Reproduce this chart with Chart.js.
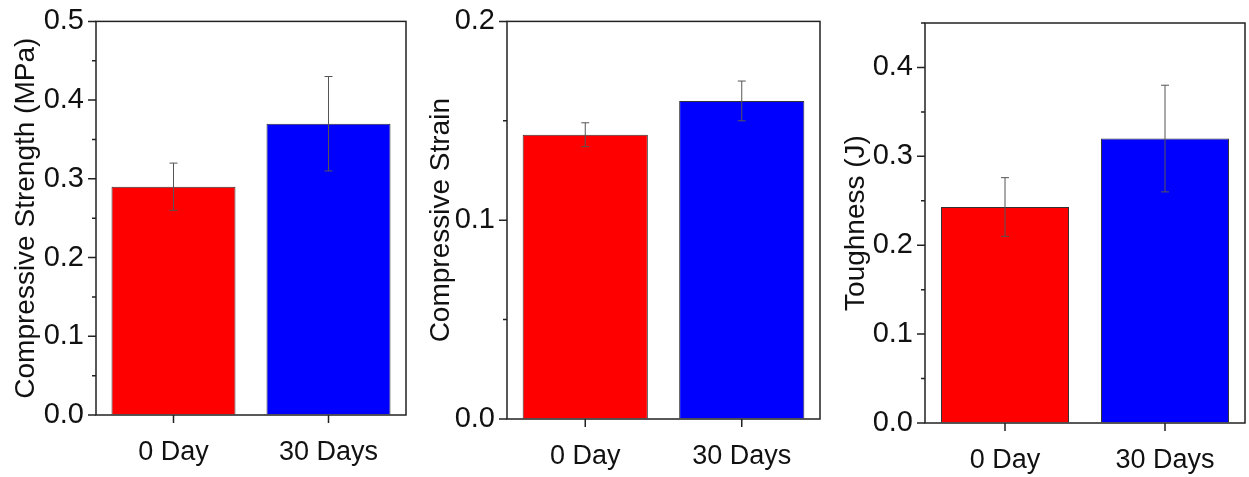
<!DOCTYPE html>
<html>
<head>
<meta charset="utf-8">
<script src="https://cdn.jsdelivr.net/npm/chart.js@4"></script>
<style>
  html, body { margin: 0; padding: 0; background: #fff; }
  body { width: 1249px; height: 477px; position: relative; overflow: hidden; }
  .panel { position: absolute; top: 0; height: 477px; }
</style>
</head>
<body>
<div class="panel" style="left:0;width:415px"><canvas id="c1"></canvas></div>
<div class="panel" style="left:415px;width:415px"><canvas id="c2"></canvas></div>
<div class="panel" style="left:830px;width:419px"><canvas id="c3"></canvas></div>
<script>
const days = ['0 Day', '30 Days'];
const barColors = ['#ff0000', '#0000ff'];

const strength = [0.29, 0.37];
const strengthErr = [0.03, 0.06];

const strain = [0.143, 0.16];
const strainErr = [0.006, 0.01];

const toughness = [0.243, 0.32];
const toughnessErr = [0.033, 0.06];

const FONT = "'Liberation Sans', Arial, sans-serif";

// error bars, tick marks and the closed frame
const decor = {
  id: 'decor',
  afterDatasetsDraw(chart, args, opts) {
    const c = chart.ctx, y = chart.scales.y;
    const meta = chart.getDatasetMeta(0);
    c.save();
    c.strokeStyle = '#555';
    c.lineWidth = 1;
    meta.data.forEach((bar, i) => {
      const v = chart.data.datasets[0].data[i], e = opts.err[i];
      const top = y.getPixelForValue(v + e), bot = y.getPixelForValue(v - e);
      c.beginPath();
      c.moveTo(bar.x, top); c.lineTo(bar.x, bot);
      c.moveTo(bar.x - 4, top); c.lineTo(bar.x + 4, top);
      c.moveTo(bar.x - 4, bot); c.lineTo(bar.x + 4, bot);
      c.stroke();
    });
    c.restore();
  },
  afterDraw(chart) {
    const c = chart.ctx, a = chart.chartArea;
    const y = chart.scales.y, x = chart.scales.x;
    c.save();
    c.strokeStyle = '#222';
    c.lineWidth = 1.5;
    c.strokeRect(a.left, a.top, a.right - a.left, a.bottom - a.top);
    c.beginPath();
    y.ticks.forEach(t => {
      const py = y.getPixelForValue(t.value);
      const len = t.label ? 8 : 4;
      c.moveTo(a.left - len, py); c.lineTo(a.left, py);
    });
    days.forEach((d, i) => {
      const px = x.getPixelForTick(i);
      c.moveTo(px, a.bottom); c.lineTo(px, a.bottom + 8);
    });
    c.stroke();
    c.restore();
  }
};

function makeChart(id, values, errs, title, max, yWidth, xHeight, padTop, padRight) {
  new Chart(document.getElementById(id), {
    type: 'bar',
    data: {
      labels: days,
      datasets: [{
        data: values,
        backgroundColor: barColors,
        borderColor: '#333',
        borderWidth: 1,
        barPercentage: 0.8,
        categoryPercentage: 1
      }]
    },
    options: {
      responsive: true,
      maintainAspectRatio: false,
      animation: false,
      layout: { padding: { top: padTop, right: padRight, left: 0, bottom: 0 } },
      plugins: { legend: { display: false }, tooltip: { enabled: false }, decor: { err: errs } },
      scales: {
        x: {
          grid: { display: true, drawOnChartArea: false, drawTicks: true, tickLength: 8, color: 'rgba(0,0,0,0)' },
          border: { display: false },
          ticks: { color: '#111', font: { family: FONT, size: 27 }, padding: 13, maxRotation: 0 },
          afterFit(s) { s.height = xHeight; }
        },
        y: {
          min: 0,
          max: max,
          grid: { display: true, drawOnChartArea: false, drawTicks: true, tickLength: 8, color: 'rgba(0,0,0,0)' },
          border: { display: false },
          ticks: {
            stepSize: 0.05,
            color: '#111',
            font: { family: FONT, size: 29 },
            padding: 4,
            callback: v => Math.abs(v * 10 - Math.round(v * 10)) < 1e-6 ? v.toFixed(1) : ''
          },
          title: { display: true, text: title, color: '#111', font: { family: FONT, size: 28 }, padding: { top: 9, bottom: 0 } },
          afterFit(s) { s.width = yWidth; }
        }
      }
    },
    plugins: [decor]
  });
}

makeChart('c1', strength, strengthErr, 'Compressive Strength (MPa)', 0.5, 96, 62, 19, 9);
makeChart('c2', strain, strainErr, 'Compressive Strain', 0.2, 92, 58, 19, 10);
makeChart('c3', toughness, toughnessErr, 'Toughness (J)', 0.45, 95, 54, 23, 4);
</script>
</body>
</html>
